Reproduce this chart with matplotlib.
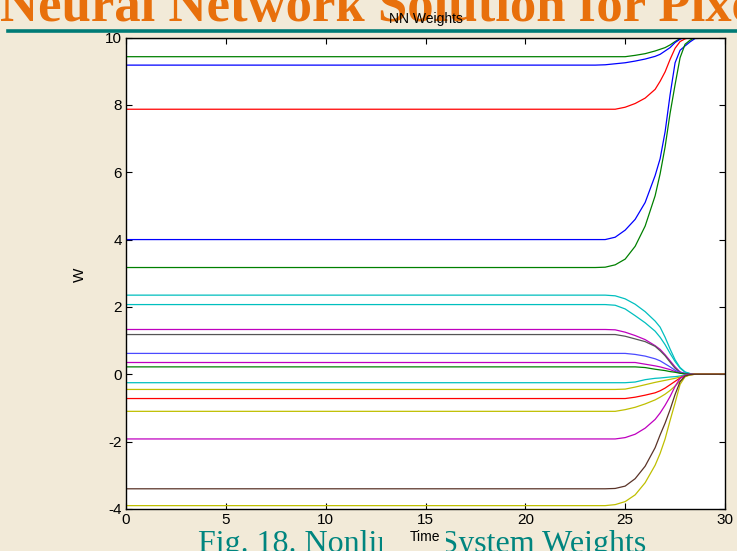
import matplotlib
matplotlib.use("Agg")
import matplotlib.pyplot as plt
from matplotlib.lines import Line2D
from matplotlib.patches import Rectangle

plt.rcParams['axes.unicode_minus'] = False

# ---------------- data ----------------
time_grid = [0, 23.5, 24.0, 24.5, 25.0, 25.5, 26.0, 26.5, 26.75, 27.0, 27.25, 27.5, 27.75, 28.0, 28.25, 28.5, 30]

w_gray_top   = [9.97, 9.97, 9.97, 9.97, 9.97, 9.97, 9.97, 9.97, 9.97, 9.97, 9.97, 9.98, 9.99, 10.0, 10.0, 10.0, 10.0]
w_green_943  = [9.43, 9.43, 9.43, 9.43, 9.43, 9.47, 9.52, 9.60, 9.65, 9.70, 9.78, 9.88, 9.97, 10.0, 10.0, 10.0, 10.0]
w_blue_918   = [9.18, 9.18, 9.19, 9.22, 9.25, 9.30, 9.36, 9.44, 9.50, 9.60, 9.70, 9.85, 9.95, 10.0, 10.0, 10.0, 10.0]
w_red_787    = [7.87, 7.87, 7.87, 7.87, 7.93, 8.04, 8.20, 8.46, 8.70, 8.98, 9.35, 9.68, 9.88, 9.96, 10.0, 10.0, 10.0]
w_blue_400   = [4.00, 4.00, 4.00, 4.07, 4.28, 4.60, 5.10, 5.90, 6.40, 7.20, 8.30, 9.25, 9.62, 9.75, 9.87, 9.97, 10.0]
w_green_317  = [3.17, 3.17, 3.18, 3.25, 3.42, 3.80, 4.40, 5.30, 5.95, 6.75, 7.75, 8.60, 9.40, 9.80, 9.92, 10.0, 10.0]
w_cyan_235   = [2.35, 2.35, 2.35, 2.33, 2.24, 2.08, 1.86, 1.58, 1.40, 1.10, 0.75, 0.43, 0.20, 0.07, 0.02, 0.0, 0.0]
w_cyan_207   = [2.07, 2.07, 2.07, 2.05, 1.94, 1.74, 1.53, 1.28, 1.10, 0.88, 0.62, 0.38, 0.18, 0.06, 0.02, 0.0, 0.0]
w_mag_133    = [1.33, 1.33, 1.33, 1.32, 1.25, 1.15, 1.03, 0.85, 0.74, 0.58, 0.40, 0.22, 0.07, 0.02, 0.0, 0.0, 0.0]
w_gray_118   = [1.18, 1.18, 1.18, 1.18, 1.13, 1.05, 0.97, 0.83, 0.70, 0.55, 0.36, 0.18, 0.06, 0.02, 0.0, 0.0, 0.0]
w_blue_062   = [0.62, 0.62, 0.62, 0.62, 0.62, 0.59, 0.54, 0.46, 0.40, 0.31, 0.22, 0.12, 0.05, 0.02, 0.0, 0.0, 0.0]
w_mag_035    = [0.35, 0.35, 0.35, 0.35, 0.35, 0.35, 0.30, 0.25, 0.22, 0.18, 0.14, 0.08, 0.04, 0.01, 0.0, 0.0, 0.0]
w_green_022  = [0.22, 0.22, 0.22, 0.22, 0.22, 0.22, 0.20, 0.15, 0.13, 0.11, 0.08, 0.06, 0.03, 0.01, 0.0, 0.0, 0.0]
w_cyan_m025  = [-0.25, -0.25, -0.25, -0.25, -0.25, -0.23, -0.16, -0.12, -0.11, -0.095, -0.08, -0.07, -0.05, -0.02, 0.0, 0.0, 0.0]
w_yel_m045   = [-0.45, -0.45, -0.45, -0.45, -0.44, -0.38, -0.31, -0.24, -0.21, -0.18, -0.15, -0.12, -0.08, -0.04, -0.01, 0.0, 0.0]
w_red_m072   = [-0.72, -0.72, -0.72, -0.72, -0.72, -0.68, -0.62, -0.55, -0.49, -0.41, -0.31, -0.21, -0.11, -0.04, -0.01, 0.0, 0.0]
w_yel_m110   = [-1.10, -1.10, -1.10, -1.10, -1.05, -0.98, -0.88, -0.76, -0.68, -0.59, -0.48, -0.35, -0.20, -0.07, -0.02, 0.0, 0.0]
w_mag_m192   = [-1.92, -1.92, -1.92, -1.92, -1.88, -1.78, -1.60, -1.34, -1.15, -0.92, -0.66, -0.36, -0.12, -0.03, 0.0, 0.0, 0.0]
w_brown_m340 = [-3.40, -3.40, -3.40, -3.39, -3.32, -3.10, -2.73, -2.18, -1.80, -1.45, -1.05, -0.60, -0.22, -0.05, -0.01, 0.0, 0.0]
w_yel_m390   = [-3.90, -3.90, -3.90, -3.87, -3.78, -3.58, -3.22, -2.70, -2.35, -1.92, -1.37, -0.85, -0.30, -0.07, -0.01, 0.0, 0.0]

x_ticks = [0, 5, 10, 15, 20, 25, 30]
y_ticks = [-4, -2, 0, 2, 4, 6, 8, 10]

slide_title = "Neural Network Solution for Pixel"
chart_title = "NN Weights"
x_label = "Time"
y_label = "W"
caption = "Fig. 18. Nonlinear System Weights"

# ---------------- styles ----------------
C_B = '#0000ff'
C_G = '#008000'
C_R = '#ff0000'
C_C = '#00bfbf'
C_M = '#bf00bf'
C_Y = '#bfbf00'
C_K = '#555555'
C_BR = '#5a3328'

series = [
    (w_gray_top, '#808080'),
    (w_green_943, C_G), (w_blue_918, C_B), (w_red_787, C_R),
    (w_blue_400, C_B), (w_green_317, C_G),
    (w_cyan_235, C_C), (w_cyan_207, C_C), (w_mag_133, C_M), (w_gray_118, C_K),
    (w_blue_062, '#4a4aff'), (w_mag_035, C_M), (w_green_022, C_G),
    (w_cyan_m025, C_C), (w_yel_m045, C_Y), (w_red_m072, C_R), (w_yel_m110, C_Y),
    (w_mag_m192, C_M), (w_yel_m390, C_Y), (w_brown_m340, C_BR),
]

BG = '#f2ead8'
W, H = 737, 551
fig = plt.figure(figsize=(W / 100, H / 100), dpi=100, facecolor=BG)

# slide title (cut at top)
fig.text(0 / W, 1 - 21 / H, slide_title, family='Liberation Serif', weight='bold',
         fontsize=38, color='#e8700c', ha='left', va='baseline')
# teal rule
fig.add_artist(Line2D([8 / W, 1.0], [1 - 30.5 / H, 1 - 30.5 / H], color='#007b76', lw=2.6,
                      transform=fig.transFigure))

# caption (cut at bottom)
fig.text(198 / W, 1 - 552 / H, caption, family='Liberation Serif', fontsize=23,
         color='#00857f', ha='left', va='baseline', zorder=3)
# background patch of the x label area hiding part of the caption
fig.add_artist(Rectangle((381.5 / W, 0), 64.5 / W, 1 - 527 / H, transform=fig.transFigure,
                         facecolor=BG, edgecolor='none', zorder=5))

ax = fig.add_axes([126 / W, 1 - 509 / H, (725 - 126) / W, (509 - 37.5) / H])
ax.set_facecolor('white')
for vals, col in series:
    ax.plot(time_grid, vals, color=col, lw=0.9)

ax.set_xlim(0, 30)
ax.set_ylim(-4, 10)
ax.set_xticks(x_ticks)
ax.set_yticks(y_ticks)
ax.set_xticklabels([str(v) for v in x_ticks])
ax.set_yticklabels([str(v) for v in y_ticks])
ax.tick_params(direction='in', top=True, right=True, length=4, width=0.8,
               labelsize=11, pad=3)
for lab in ax.get_xticklabels() + ax.get_yticklabels():
    lab.set_family('Liberation Sans')
for s in ax.spines.values():
    s.set_linewidth(1.0)
    s.set_color('black')

fig.text(425.5 / W, 1 - 23 / H, chart_title, family='Liberation Sans', fontsize=10,
         ha='center', va='baseline')
fig.text(425.5 / W, 1 - 541 / H, x_label, family='Liberation Sans', fontsize=10,
         ha='center', va='baseline', zorder=6)
fig.text(80 / W, 1 - 275 / H, y_label, family='Liberation Sans', fontsize=11,
         ha='center', va='center', rotation=90)

fig.savefig('out.png', dpi=100, facecolor=BG)
